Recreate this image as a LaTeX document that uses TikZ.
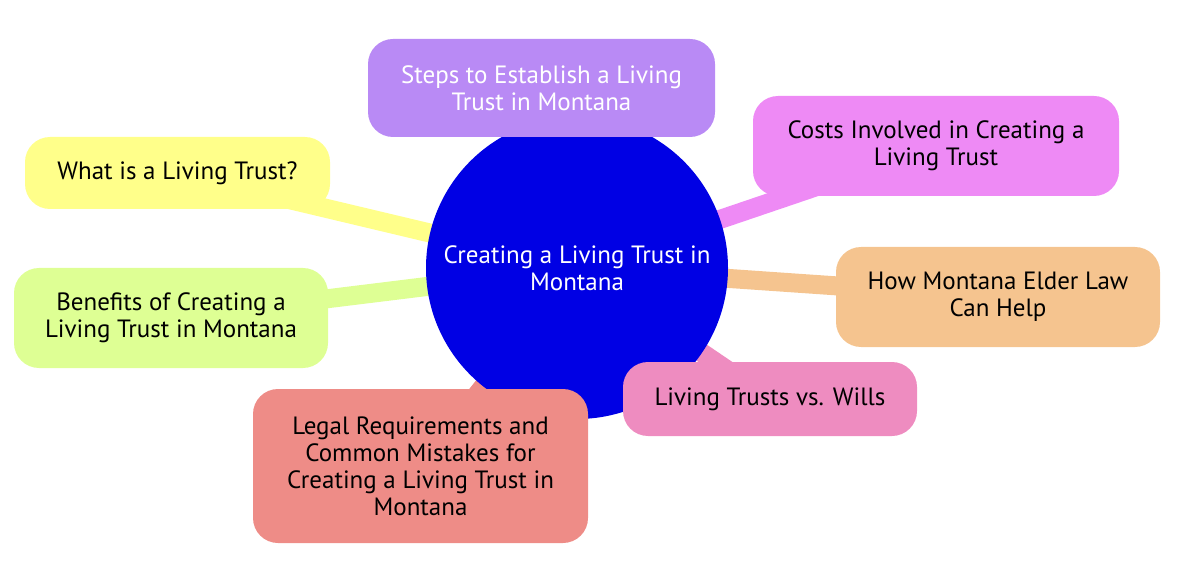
\documentclass[tikz,border=0pt]{standalone}
\usepackage{fontspec}
\setmainfont{PT Sans}
\usetikzlibrary{backgrounds}
\definecolor{rootblue}{RGB}{0,0,228}
\definecolor{stepscol}{RGB}{185,138,245}
\definecolor{whatcol}{RGB}{255,255,138}
\definecolor{costscol}{RGB}{238,138,245}
\definecolor{benefitscol}{RGB}{222,255,148}
\definecolor{eldercol}{RGB}{245,196,143}
\definecolor{willscol}{RGB}{238,140,192}
\definecolor{legalcol}{RGB}{238,140,135}
\begin{document}
\begin{tikzpicture}[
  x=1pt, y=-1pt,
  topic/.style={rectangle, rounded corners=25pt, inner sep=0pt, align=center, font=\fontsize{25}{27}\selectfont},
  branch/.style={line width=19pt}
]
\useasboundingbox (0,0) rectangle (1200,572);

% Central node
\node[circle, fill=rootblue, minimum size=302pt, inner sep=0pt, text=white, align=center, font=\fontsize{25}{27}\selectfont] (root) at (577,268) {Creating a Living Trust in\\Montana};

% Surrounding nodes
\node[topic, fill=stepscol, text=white, minimum width=347pt, minimum height=98pt] (steps) at (541.5,88) {Steps to Establish a Living\\Trust in Montana};
\node[topic, fill=whatcol, minimum width=305pt, minimum height=72pt] (what) at (177.5,173) {What is a Living Trust?};
\node[topic, fill=costscol, minimum width=366pt, minimum height=100pt] (costs) at (936,146) {Costs Involved in Creating a\\Living Trust};
\node[topic, fill=benefitscol, minimum width=314pt, minimum height=100pt] (benefits) at (171,318) {Benefits of Creating a\\Living Trust in Montana};
\node[topic, fill=eldercol, minimum width=324pt, minimum height=100pt] (elder) at (998,297) {How Montana Elder Law\\Can Help};
\node[topic, fill=willscol, minimum width=294pt, minimum height=74pt] (wills) at (770,399) {Living Trusts vs. Wills};
\node[topic, fill=legalcol, minimum width=335pt, minimum height=154pt] (legal) at (420.5,466) {Legal Requirements and\\Common Mistakes for\\Creating a Living Trust in\\Montana};

% Branches
\begin{scope}[on background layer]
\draw[branch, stepscol] (root.center) -- (steps.center);
\draw[branch, whatcol] (root.center) -- (what.center);
\draw[branch, costscol] (root.center) -- (costs.center);
\draw[branch, benefitscol] (root.center) -- (benefits.center);
\draw[branch, eldercol] (root.center) -- (elder.center);
\draw[branch, willscol] (root.center) -- (wills.center);
\draw[branch, legalcol] (root.center) -- (legal.center);
\end{scope}
\end{tikzpicture}
\end{document}
